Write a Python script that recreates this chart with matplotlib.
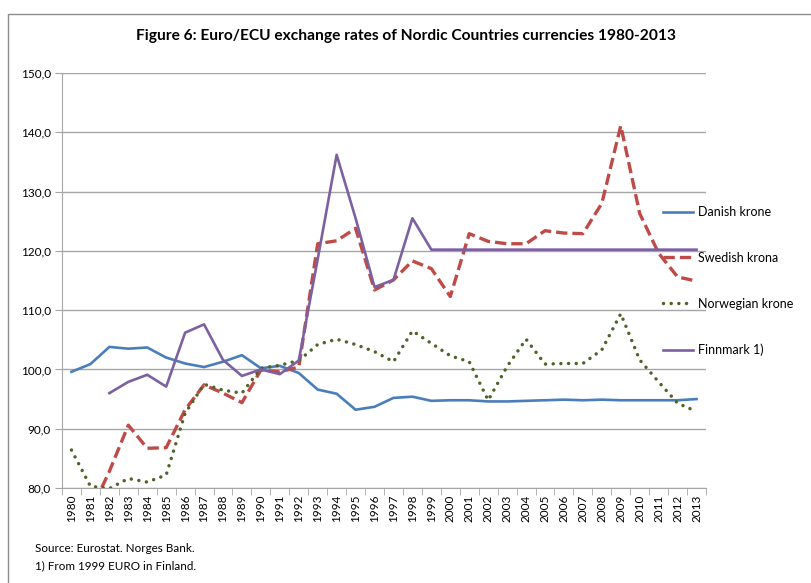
import numpy as np
import matplotlib
matplotlib.use("Agg")
import matplotlib.pyplot as plt
from matplotlib.patches import Rectangle

plt.rcParams['font.family'] = ['Lato', 'DejaVu Sans']

# data (index, 1990 = 100)
years = list(range(1980, 2014))
danish = [99.6, 100.9, 103.8, 103.5, 103.7, 102.0, 101.0, 100.4, 101.3, 102.4,
          100.2, 100.6, 99.4, 96.6, 95.9, 93.2, 93.7, 95.2, 95.4, 94.7,
          94.8, 94.8, 94.6, 94.6, 94.7, 94.8, 94.9, 94.8, 94.9, 94.8,
          94.8, 94.8, 94.8, 95.0]
swedish = [78.0, 76.0, 82.8, 90.6, 86.7, 86.8, 93.2, 97.4, 96.0, 94.4,
           99.9, 99.6, 100.4, 121.2, 121.7, 123.8, 113.4, 115.1, 118.3, 117.0,
           112.3, 122.9, 121.6, 121.2, 121.2, 123.4, 123.0, 122.9, 128.0, 141.1,
           126.3, 119.6, 115.6, 114.9]
norwegian = [86.4, 80.3, 79.9, 81.6, 81.0, 82.2, 92.6, 97.5, 96.5, 96.0,
             100.2, 100.7, 101.5, 104.2, 105.1, 104.2, 103.0, 101.3, 106.5, 104.4,
             102.3, 101.3, 94.8, 100.5, 105.1, 100.9, 101.0, 101.0, 103.3, 109.4,
             101.6, 97.9, 94.3, 92.9]
finnmark = [np.nan, np.nan, 96.0, 97.9, 99.1, 97.1, 106.2, 107.6, 101.6, 98.9,
            100.0, 99.2, 101.5, 118.6, 136.2, 125.5, 113.9, 115.1, 125.5, 120.2,
            120.2, 120.2, 120.2, 120.2, 120.2, 120.2, 120.2, 120.2, 120.2, 120.2,
            120.2, 120.2, 120.2, 120.2]

title = "Figure 6: Euro/ECU exchange rates of Nordic Countries currencies 1980-2013"
notes = ["Source: Eurostat. Norges Bank.", "1) From 1999 EURO in Finland."]

fig = plt.figure(figsize=(8.11, 5.83), dpi=100)
ax = fig.add_axes([62 / 811, 1 - 488 / 583, 644 / 811, 415 / 583])

x = np.arange(len(years))
grey = '#a6a6a6'

ax.plot(x, danish, color='#4a7ebb', lw=1.9, label='Danish krone')
ax.plot(x, swedish, color='#be4b48', lw=2.4, linestyle=(0, (3.4, 1.5)),
        label='Swedish krona')
ax.plot(x, norwegian, color='#4f6228', lw=2.5, linestyle=(0, (0.01, 2.2)),
        dash_capstyle='round', label='Norwegian krone')
ax.plot(x, finnmark, color='#7d60a0', lw=1.9, label='Finnmark 1)')

ax.set_xlim(-0.5, len(years) - 0.5)
ax.set_ylim(80, 150)
ax.set_yticks(np.arange(80, 151, 10))
ax.set_yticklabels([f"{v:.1f}".replace('.', ',') for v in np.arange(80, 151, 10)],
                   fontsize=8.5)
ax.yaxis.grid(True, color=grey, lw=1)
ax.set_axisbelow(True)

ax.set_xticks(x)
ax.set_xticklabels([str(y) for y in years], rotation=90, fontsize=8.5)
ax.set_xticks(np.arange(-0.5, len(years), 1), minor=True)
ax.tick_params(axis='x', which='major', length=0, pad=5)
ax.tick_params(axis='x', which='minor', length=5, color=grey, direction='out')
ax.tick_params(axis='y', length=5, color=grey, direction='out', pad=3)

for side in ['top', 'right']:
    ax.spines[side].set_visible(False)
for side in ['left', 'bottom']:
    ax.spines[side].set_color(grey)

fig.legend(loc='center left', bbox_to_anchor=(652 / 811, 1 - 281 / 583),
           frameon=False, fontsize=9, labelspacing=2.7, handlelength=2.4,
           handletextpad=0.4)

fig.text(0.5, 1 - 36 / 583, title, ha='center', va='center',
         fontsize=11.2, fontweight='bold')
fig.text(35 / 811, 1 - 549 / 583, notes[0], ha='left', va='center', fontsize=8.4)
fig.text(35 / 811, 1 - 566 / 583, notes[1], ha='left', va='center', fontsize=8.4)

fig.patches.append(Rectangle((8 / 811, -0.1), 1.2, 1.1 - 14 / 583,
                             transform=fig.transFigure, fill=False,
                             edgecolor='#8c8c8c', lw=1))

fig.savefig('out.png', dpi=100)
